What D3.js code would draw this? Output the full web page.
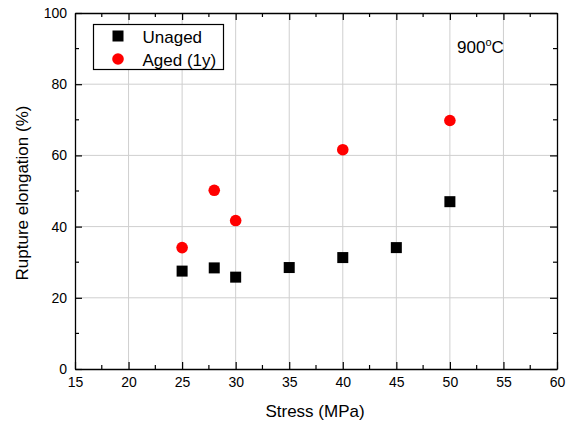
<!DOCTYPE html>
<html>
<head>
<meta charset="utf-8">
<script src="https://cdn.jsdelivr.net/npm/d3@7"></script>
<style>
  body { margin: 0; background: #fff; }
  text { font-family: Arial, "Liberation Sans", sans-serif; fill: #000; }
</style>
</head>
<body>
<svg width="574" height="423"></svg>
<script>
// Data
var unagedStress = [25, 28, 30, 35, 40, 45, 50];
var unagedElong  = [27.5, 28.4, 25.8, 28.5, 31.3, 34.1, 47.0];
var agedStress   = [25, 28, 30, 40, 50];
var agedElong    = [34.1, 50.2, 41.7, 61.6, 69.8];
var xTicks = [15, 20, 25, 30, 35, 40, 45, 50, 55, 60];
var yTicks = [0, 20, 40, 60, 80, 100];

var w = 574, h = 423;
var svg = d3.select("svg"),
    margin = {top: 13, right: 17, bottom: 54, left: 75},
    width = w - margin.left - margin.right,
    height = h - margin.top - margin.bottom,
    g = svg.append("g").attr("transform", "translate(" + margin.left + "," + margin.top + ")");

var x = d3.scaleLinear().domain([15, 60]).range([0, width]);
var y = d3.scaleLinear().domain([0, 100]).range([height, 0]);

// grid
g.append("g").selectAll("line").data(xTicks.slice(1, -1)).enter().append("line")
    .attr("x1", d => x(d)).attr("x2", d => x(d))
    .attr("y1", 0).attr("y2", height)
    .attr("stroke", "#cfcfcf").attr("stroke-width", 1);
g.append("g").selectAll("line").data(yTicks.slice(1, -1)).enter().append("line")
    .attr("y1", d => y(d)).attr("y2", d => y(d))
    .attr("x1", 0).attr("x2", width)
    .attr("stroke", "#cfcfcf").attr("stroke-width", 1);

// minor ticks
var xMinor = d3.range(17.5, 60, 5);
var yMinor = d3.range(10, 100, 20);

// axes, ticks inside
function styleAxis(sel) {
  sel.select(".domain").attr("stroke", "#000").attr("stroke-width", 1.3);
  sel.selectAll(".tick line").attr("stroke", "#000").attr("stroke-width", 1.2);
}

var axBottom = g.append("g").attr("transform", "translate(0," + height + ")")
    .call(d3.axisBottom(x).tickValues(xTicks).tickSizeInner(-7).tickSizeOuter(0).tickPadding(8));
axBottom.selectAll(".tick text").style("font-size", "14px");
axBottom.append("g").selectAll("line").data(xMinor).enter().append("line")
    .attr("x1", d => x(d)).attr("x2", d => x(d)).attr("y1", 0).attr("y2", -4)
    .attr("stroke", "#000").attr("stroke-width", 1.2);
styleAxis(axBottom);

var axTop = g.append("g")
    .call(d3.axisTop(x).tickValues(xTicks).tickSizeInner(-7).tickSizeOuter(0).tickFormat(""));
axTop.append("g").selectAll("line").data(xMinor).enter().append("line")
    .attr("x1", d => x(d)).attr("x2", d => x(d)).attr("y1", 0).attr("y2", 4)
    .attr("stroke", "#000").attr("stroke-width", 1.2);
styleAxis(axTop);

var axLeft = g.append("g")
    .call(d3.axisLeft(y).tickValues(yTicks).tickSizeInner(-7).tickSizeOuter(0).tickPadding(8));
axLeft.selectAll(".tick text").style("font-size", "14px");
axLeft.append("g").selectAll("line").data(yMinor).enter().append("line")
    .attr("y1", d => y(d)).attr("y2", d => y(d)).attr("x1", 0).attr("x2", 4)
    .attr("stroke", "#000").attr("stroke-width", 1.2);
styleAxis(axLeft);

var axRight = g.append("g").attr("transform", "translate(" + width + ",0)")
    .call(d3.axisRight(y).tickValues(yTicks).tickSizeInner(-7).tickSizeOuter(0).tickFormat(""));
axRight.append("g").selectAll("line").data(yMinor).enter().append("line")
    .attr("y1", d => y(d)).attr("y2", d => y(d)).attr("x1", 0).attr("x2", -4)
    .attr("stroke", "#000").attr("stroke-width", 1.2);
styleAxis(axRight);

// points
var unaged = unagedStress.map((s, i) => ({s: s, e: unagedElong[i]}));
var aged = agedStress.map((s, i) => ({s: s, e: agedElong[i]}));

g.append("g").selectAll("rect").data(unaged).enter().append("rect")
    .attr("x", d => x(d.s) - 5.5).attr("y", d => y(d.e) - 5.5)
    .attr("width", 11).attr("height", 11)
    .attr("fill", "#000");

g.append("g").selectAll("circle").data(aged).enter().append("circle")
    .attr("cx", d => x(d.s)).attr("cy", d => y(d.e)).attr("r", 5.8)
    .attr("fill", "#ff0000");

// legend
var lg = svg.append("g").attr("transform", "translate(93.5,24.5)");
lg.append("rect").attr("width", 130).attr("height", 45)
    .attr("fill", "#fff").attr("stroke", "#000").attr("stroke-width", 1.2);
lg.append("rect").attr("x", 19).attr("y", 6).attr("width", 11).attr("height", 11).attr("fill", "#000");
lg.append("circle").attr("cx", 24.5).attr("cy", 34.5).attr("r", 5.8).attr("fill", "#ff0000");
lg.append("text").attr("x", 49).attr("y", 18).style("font-size", "17px").text("Unaged");
lg.append("text").attr("x", 49).attr("y", 41).style("font-size", "17px").text("Aged (1y)");

// annotation
var ann = svg.append("text").attr("x", 457).attr("y", 52.5).style("font-size", "17px");
ann.append("tspan").text("900");
ann.append("tspan").attr("dy", -7).style("font-size", "11px").text("o");
ann.append("tspan").attr("dy", 7).text("C");

// axis titles
svg.append("text").attr("x", margin.left + width / 2 - 1).attr("y", 417)
    .attr("text-anchor", "middle").style("font-size", "17px").text("Stress (MPa)");
svg.append("text")
    .attr("transform", "translate(28," + (margin.top + height / 2 + 2) + ") rotate(-90)")
    .attr("text-anchor", "middle").style("font-size", "17px").text("Rupture elongation (%)");
</script>
</body>
</html>
